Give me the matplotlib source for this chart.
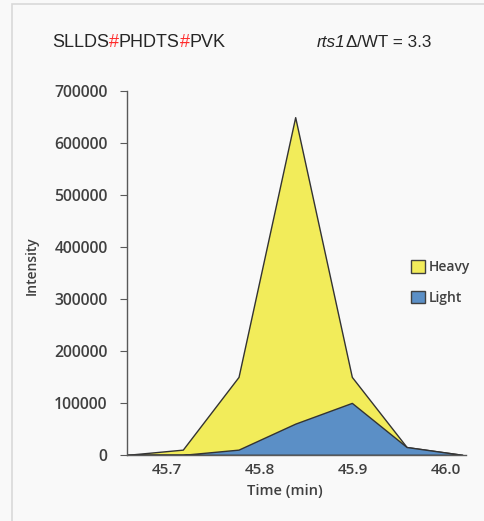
import matplotlib
matplotlib.use("Agg")
import matplotlib.pyplot as plt
from matplotlib.patches import Rectangle, Patch

# retention time (min) and intensities
time = [45.657, 45.717, 45.777, 45.838, 45.899, 45.958, 46.018]
heavy = [0, 10000, 150000, 650000, 150000, 15000, 0]
light = [0, 0, 10000, 60000, 100000, 15000, 0]
x_ticks = [45.7, 45.8, 45.9, 46.0]
y_ticks = [0, 100000, 200000, 300000, 400000, 500000, 600000, 700000]

fig = plt.figure(figsize=(4.85, 5.21), dpi=100, facecolor="#f9f9f9")
fig.patches.append(Rectangle((0.024, -0.01), 1.0, 1.003, transform=fig.transFigure,
                             fill=False, edgecolor="#d9d9d9", linewidth=1.2))

ax = fig.add_axes([0.262, 0.127, 0.699, 0.698])
ax.set_facecolor("#f9f9f9")

ax.fill_between(time, heavy, color="#f2ec5a", edgecolor="#333333", linewidth=1.0, label="Heavy")
ax.fill_between(time, light, color="#5b8fc6", edgecolor="#333333", linewidth=1.0, label="Light")

ax.set_xlim(time[0], 46.022)
ax.set_ylim(0, 700000)
ax.set_xticks(x_ticks)
ax.set_xticklabels([f"{t:.1f}" for t in x_ticks])
ax.set_yticks(y_ticks)
ax.set_yticklabels([str(v) for v in y_ticks])

for s in ["top", "right"]:
    ax.spines[s].set_visible(False)
for s in ["left", "bottom"]:
    ax.spines[s].set_color("#595959")
    ax.spines[s].set_linewidth(1.0)

ax.tick_params(axis="y", length=5, color="#595959", labelsize=11.3, labelcolor="#404040", pad=9)
ax.tick_params(axis="x", length=0, labelsize=11, labelcolor="#404040", pad=6)
for lab in ax.get_xticklabels() + ax.get_yticklabels():
    lab.set_fontfamily("Open Sans")
    lab.set_fontweight("semibold")

ax.set_xlabel("Time (min)", fontsize=10.5, color="#404040", family="Open Sans",
              fontweight="semibold")
ax.xaxis.set_label_coords(0.466, -0.08)
ax.set_ylabel("Intensity", fontsize=10, color="#404040", family="Open Sans",
              fontweight="semibold")
ax.yaxis.set_label_coords(-0.26, 0.52)

handles = [Patch(facecolor="#f2ec5a", edgecolor="#404040"),
           Patch(facecolor="#5b8fc6", edgecolor="#404040")]
leg = ax.legend(handles, ["Heavy", "Light"], loc="upper left", bbox_to_anchor=(0.8, 0.57),
                frameon=False, handlelength=1.0, handleheight=1.0, handletextpad=0.3,
                labelspacing=1.2, prop={"family": "Open Sans", "weight": "semibold", "size": 10})
for t in leg.get_texts():
    t.set_color("#404040")

# title pieces placed one after another
fig.canvas.draw()
renderer = fig.canvas.get_renderer()


def place_run(x, y, pieces, size):
    for txt, color, style in pieces:
        t = fig.text(x, y, txt, color=color, style=style, fontsize=size,
                     family="Liberation Sans", va="center", ha="left")
        bb = t.get_window_extent(renderer)
        x += bb.width / fig.bbox.width


place_run(0.107, 0.918, [("SLLDS", "#262626", "normal"), ("#", "#ff2a2a", "normal"),
                         ("PHDTS", "#262626", "normal"), ("#", "#ff2a2a", "normal"),
                         ("PVK", "#262626", "normal")], 13)
place_run(0.653, 0.918, [("rts1", "#262626", "italic"), ("Δ", "#262626", "normal"),
                         ("/WT = 3.3", "#262626", "normal")], 12.3)

fig.savefig("out.png", dpi=100, facecolor=fig.get_facecolor())
